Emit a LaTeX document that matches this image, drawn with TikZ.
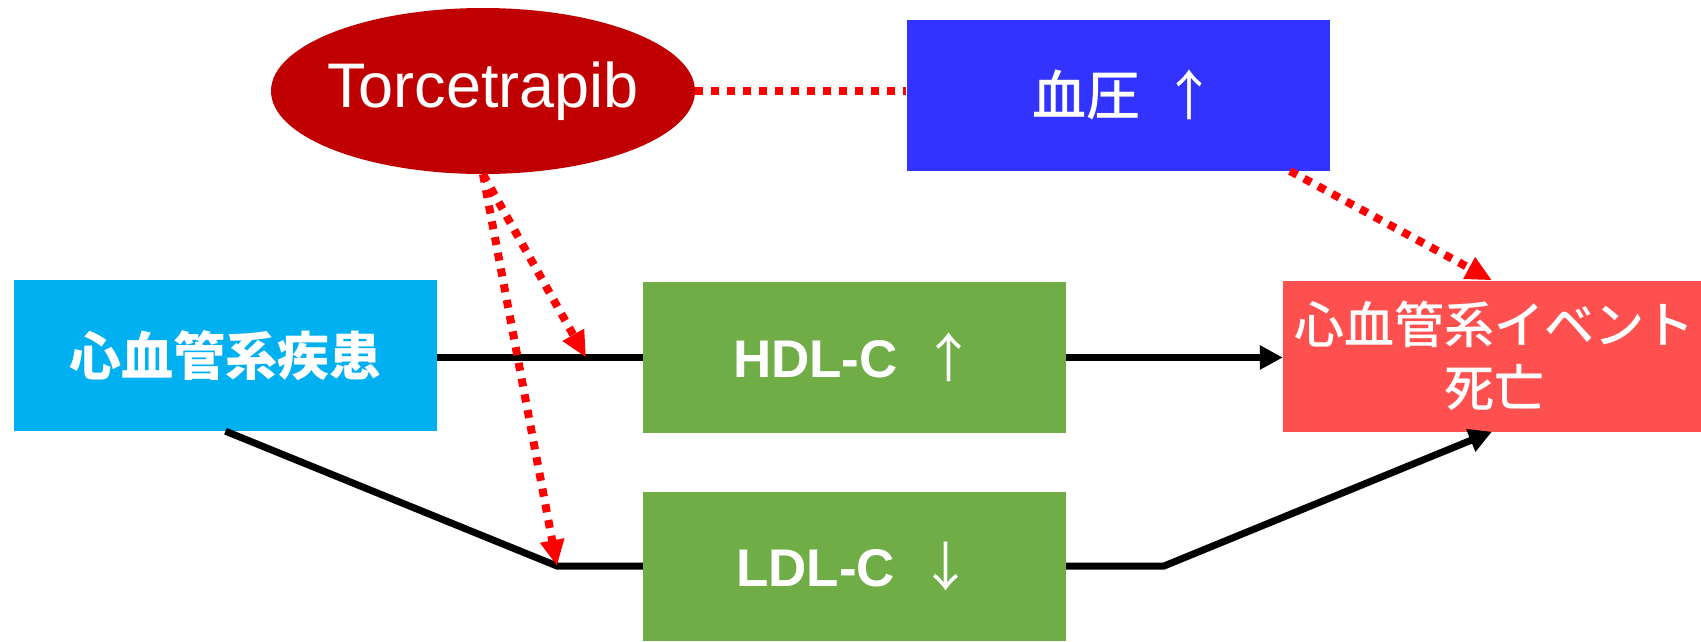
\documentclass[tikz,border=0pt]{standalone}
\usepackage{fontspec}
\setmainfont{Liberation Sans}
\newfontfamily\cjk{Noto Sans CJK JP}
\newfontfamily\cjkmed{Noto Sans CJK JP Medium}
\usetikzlibrary{arrows.meta,shapes.geometric}

\definecolor{drugred}{HTML}{C00000}
\definecolor{bpblue}{HTML}{3333FF}
\definecolor{cvdcyan}{HTML}{00B0F0}
\definecolor{lipgreen}{HTML}{70AD47}
\definecolor{eventred}{HTML}{FF5050}
\definecolor{effred}{HTML}{FF0000}

\begin{document}
\begin{tikzpicture}[x=1pt,y=-1pt,
  box/.style={rectangle, minimum width=423pt, minimum height=151pt,
              inner sep=0pt, text=white, align=center},
  link/.style={line width=7pt, black},
  linkarrow/.style={link, -{Triangle[length=23pt,width=23pt]}},
  effect/.style={line width=8pt, effred, dash pattern=on 8pt off 8pt},
  effarrow/.style={effect, -{Triangle[length=26pt,width=23pt]}}]

\useasboundingbox (0,0) rectangle (1701,641);

% boxes
\node[ellipse, fill=drugred, minimum width=424pt, minimum height=166pt,
      inner sep=0pt, text=white, font=\fontsize{63}{70}\selectfont]
      (tor) at (483,91) {\makebox[0pt]{Torcetrapib}};
\node[box, fill=bpblue, font=\cjkmed\fontsize{54}{60}\selectfont]
      (bp) at (1118,95) {\hspace*{12pt}血圧\hspace{22pt}{\cjk ↑}};
\node[box, fill=cvdcyan, font=\cjk\bfseries\fontsize{52}{60}\selectfont]
      (cvd) at (225.5,355.5) {心血管系疾患};
\node[box, fill=lipgreen, font=\fontsize{53}{60}\selectfont]
      (hdl) at (854.5,357.5) {\bfseries HDL-C\hspace{25pt}{\cjk\mdseries ↑}};
\node[box, fill=lipgreen, minimum height=149pt, font=\fontsize{53}{60}\selectfont]
      (ldl) at (854.5,566) {\bfseries LDL-C\hspace{25pt}{\cjk\mdseries ↓}};
\node[box, fill=eventred, minimum width=418pt,
      font=\cjkmed\fontsize{50}{63}\selectfont]
      (ev) at (1492,356) {\hspace*{4pt}心血管系イベント\\\hspace*{4pt}死亡};

% junction points
\coordinate (hc) at (586,357.5);
\coordinate (lc) at (557,566);
\coordinate (rc) at (1164,566);
\coordinate (bs) at (1290,171);

% causal paths
\draw[link] (cvd.east |- hdl) -- (hdl.west);
\draw[linkarrow] (hdl.east) -- (hdl.east -| ev.west);
\draw[link] (cvd.south) -- (lc) -- (ldl.west);
\draw[linkarrow] (ldl.east) -- (rc) -- (ev.south);

% drug effects
\draw[effect] (tor.east) -- (tor.east -| bp.west);
\draw[effarrow] (tor.south) -- (hc);
\draw[effarrow] (tor.south) -- (lc);
\draw[effarrow] (bs) -- (ev.north);

\end{tikzpicture}
\end{document}
